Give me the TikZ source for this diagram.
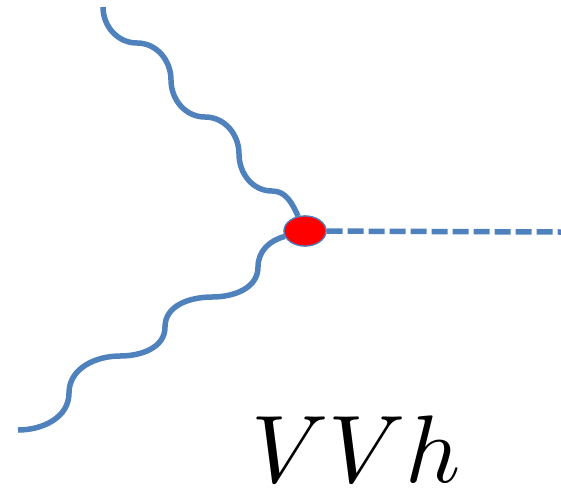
\documentclass[tikz,border=0pt]{standalone}
\usepackage{graphicx}
\usepackage{tikz}
\usetikzlibrary{shapes.geometric}
\definecolor{lineblue}{RGB}{79, 129, 189}
\begin{document}
\begin{tikzpicture}[
  x=1pt, y=-1pt,
  vertex/.style={
    ellipse, draw=lineblue, line width=1.2pt, fill=red,
    minimum width=42pt, minimum height=30pt, inner sep=0pt
  },
  boson/.style={draw=lineblue, line width=5.5pt},
  scalar/.style={draw=lineblue, line width=5.5pt, dash pattern=on 16pt off 5pt},
  label/.style={inner sep=0pt}
]
\useasboundingbox (0,0) rectangle (561,488);
\coordinate (vin) at (103,7);
\coordinate (vout) at (18,430);
\coordinate (hend) at (561,232);
% vertex
\node[vertex] (vtx) at (305,231) {};
% upper gauge boson
\draw[boson] (vin) to[out=-90, in=180] (137,43)
  to[out=0, in=90] (171,80)
  to[out=-90, in=180] (205,117)
  to[out=0, in=90] (239,154)
  to[out=-90, in=180] (272,191)
  to[out=0, in=115] (vtx);
% lower gauge boson
\draw[boson] (vtx) to[out=195, in=90] (258,267)
  to[out=-90, in=0] (212,297)
  to[out=180, in=90] (165,327)
  to[out=-90, in=0] (120,356)
  to[out=180, in=90] (69,393)
  to[out=-90, in=0] (vout);
% Higgs line
\draw[scalar] (vtx) -- (hend);
\node[vertex] at (vtx) {};
\node[label, anchor=base] (lbl) at (356,482) {\scalebox{9.6}{$VVh$}};
\end{tikzpicture}
\end{document}
